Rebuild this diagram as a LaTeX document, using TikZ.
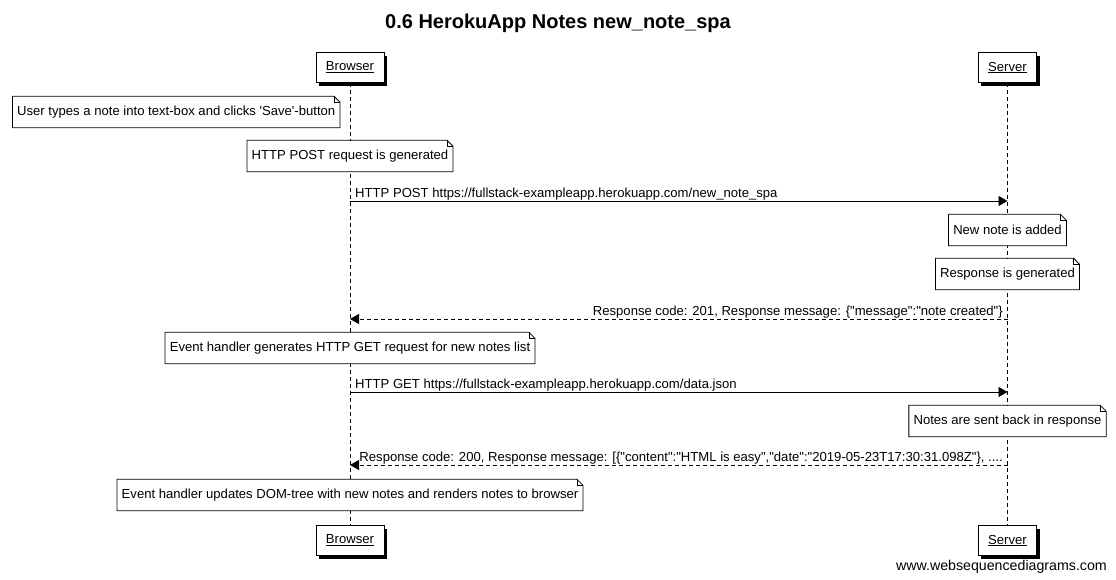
\documentclass[tikz,border=0pt]{standalone}
\usepackage{fontspec}
\setmainfont{Liberation Sans}
\newfontfamily\wsd{Liberation Sans}
\usetikzlibrary{positioning,arrows.meta,shadows}

\begin{document}
\begin{tikzpicture}[x=1pt, y=-1pt,
  ttl/.style={font=\wsd\fontsize{20}{24}\selectfont\bfseries, align=center},
  actor/.style={draw, fill=white, line width=0.9pt, inner xsep=10pt,
    minimum height=30pt, font=\wsd\fontsize{13.1}{15}\selectfont,
    general shadow={fill=black, shadow xshift=3pt, shadow yshift=-3pt}},
  life/.style={line width=0.9pt, dash pattern=on 4pt off 3pt},
  note/.style={fill=white, inner xsep=4.5pt, minimum height=31pt,
    font=\wsd\fontsize{13.1}{15}\selectfont},
  noteline/.style={line width=0.8pt},
  msg/.style={font=\wsd\fontsize{13.1}{15}\selectfont, inner sep=0pt},
  call/.style={-{Triangle[length=9pt,width=10pt]}, line width=0.9pt},
  reply/.style={call, dash pattern=on 4pt off 3pt}
]
  \useasboundingbox (0,0) rectangle (1116,579);
  % Title
  \node[ttl] (title) at (558,23) {0.6 HerokuApp Notes new\_note\_spa};
  % Participants
  \node[actor] (browserTop) at (350,67.5)  {\underline{Browser}};
  \node[actor] (serverTop)  at (1007.5,67.5) {\underline{Server}};
  \node[actor] (browserBot) at (350,540.5) {\underline{Browser}};
  \node[actor] (serverBot)  at (1007.5,540.5) {\underline{Server}};
  % Lifelines
  \draw[life] (browserTop.south) -- (browserBot.north);
  \draw[life] (serverTop.south) -- (serverBot.north);
  % Notes
  \node[note, anchor=east] (nType) at (340,112)
    {User types a note into text-box and clicks 'Save'-button};
  \node[note] (nPost)  at (350,156)    {HTTP POST request is generated};
  \node[note] (nAdded) at (1007.5,230) {New note is added};
  \node[note] (nResp)  at (1007.5,274) {Response is generated};
  \node[note] (nGet)   at (350,348)
    {Event handler generates HTTP GET request for new notes list};
  \node[note] (nSent)  at (1007.5,421) {Notes are sent back in response};
  \node[note] (nDom)   at (350,495)
    {Event handler updates DOM-tree with new notes and renders notes to browser};
  \foreach \n in {nType,nPost,nAdded,nResp,nGet,nSent,nDom} {
    \draw[noteline] (\n.south west) -- (\n.north west)
      -- ([xshift=-6pt]\n.north east) -- ([yshift=-6pt]\n.north east)
      -- (\n.south east) -- cycle;
    \draw[noteline] ([xshift=-6pt]\n.north east) |- ([yshift=-6pt]\n.north east);
  }
  % Messages
  \coordinate (bPost) at (350,201);
  \coordinate (sPost) at (1007.5,201);
  \coordinate (sAck)  at (1007.5,319);
  \coordinate (bAck)  at (350,319);
  \coordinate (bGet)  at (350,392);
  \coordinate (sGet)  at (1007.5,392);
  \coordinate (sData) at (1007.5,465);
  \coordinate (bData) at (350,465);
  \draw[call] (bPost) -- (sPost);
  \draw[reply] (sAck) -- (bAck);
  \draw[call] (bGet) -- (sGet);
  \draw[reply] (sData) -- (bData);
  \node[msg, anchor=base west] (lPost) at (355,197)
    {HTTP POST https://fullstack-exampleapp.herokuapp.com/new\_note\_spa};
  \node[msg, anchor=base east] (lAck) at (1003,315)
    {Response code: 201, Response message: \{"message":"note created"\}};
  \node[msg, anchor=base west] (lGet) at (355,388)
    {HTTP GET https://fullstack-exampleapp.herokuapp.com/data.json};
  \node[msg, anchor=base east] (lData) at (1003,461)
    {Response code: 200, Response message: [\{"content":"HTML is easy","date":"2019-05-23T17:30:31.098Z"\}, ....};
  % Footer
  \node[msg, font=\wsd\fontsize{14.2}{17}\selectfont, anchor=base east] (credit)
    at (1107,570) {www.websequencediagrams.com};
\end{tikzpicture}
\end{document}
